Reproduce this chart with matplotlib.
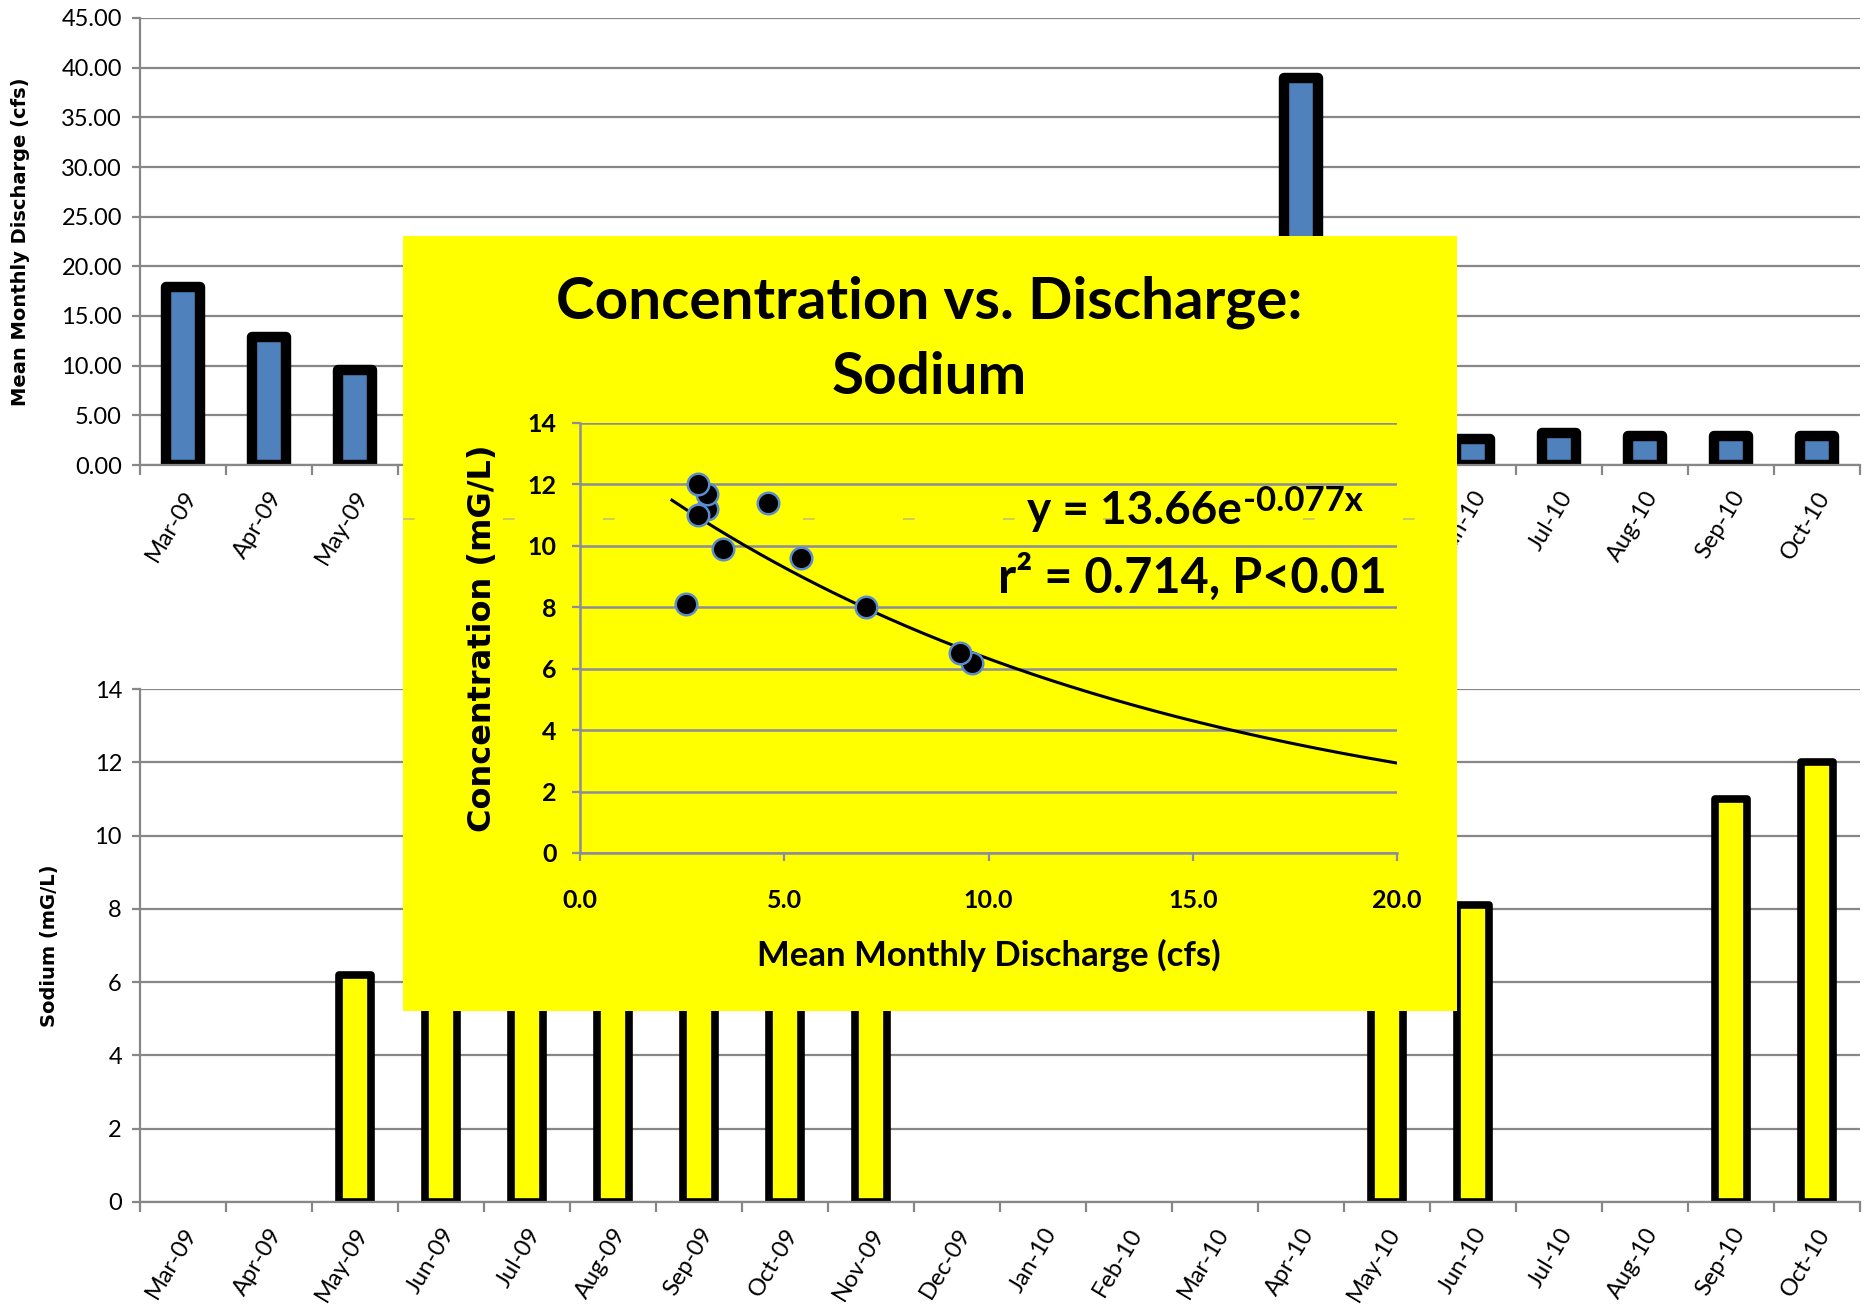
import numpy as np
import matplotlib
matplotlib.use('Agg')
import matplotlib.pyplot as plt
from matplotlib.ticker import MultipleLocator, FormatStrFormatter
from matplotlib.transforms import ScaledTranslation

plt.rcParams['font.family'] = ['Lato', 'DejaVu Sans']

# monthly record, Mar-09 .. Oct-10
months = ['Mar-09', 'Apr-09', 'May-09', 'Jun-09', 'Jul-09', 'Aug-09', 'Sep-09',
          'Oct-09', 'Nov-09', 'Dec-09', 'Jan-10', 'Feb-10', 'Mar-10', 'Apr-10',
          'May-10', 'Jun-10', 'Jul-10', 'Aug-10', 'Sep-10', 'Oct-10']
discharge = [17.9, 12.9, 9.6, 9.3, 7.0, 5.4, 3.5, 3.1, 3.1, 3.6,
             4.2, 5.5, 12.0, 39.0, 4.6, 2.6, 3.2, 2.9, 2.9, 2.9]
nan = np.nan
sodium = [nan, nan, 6.2, 6.5, 8.0, 9.6, 9.9, 11.2, 11.7, nan,
          nan, nan, nan, nan, 11.4, 8.1, nan, nan, 11.0, 12.0]

# exponential trend reported for sodium vs discharge
fit_a = 13.66
fit_b = -0.077
fit_r2 = 0.714
fit_xmin = 2.25

blue = '#4F81BD'
yellow = '#FFFF00'
gray = '#878787'
inset_gray = '#8C8C9C'

W, H = 1870, 1312


def pix_box(x0, y0, x1, y1):
    # pixel rectangle (top-left origin) -> figure fraction
    return [x0 / W, 1 - y1 / H, (x1 - x0) / W, (y1 - y0) / H]


fig = plt.figure(figsize=(W / 100, H / 100), dpi=100)
x = np.arange(len(months))


def style_month_axes(ax, ymax, step, fmt):
    ax.set_xlim(-0.5, len(months) - 0.5)
    ax.set_ylim(0, ymax)
    ax.yaxis.set_major_locator(MultipleLocator(step))
    ax.yaxis.set_major_formatter(FormatStrFormatter(fmt))
    ax.yaxis.grid(True, color=gray, lw=1.6)
    ax.set_axisbelow(True)
    for s in ['top', 'right']:
        ax.spines[s].set_visible(False)
    for s in ['left', 'bottom']:
        ax.spines[s].set_color(gray)
        ax.spines[s].set_linewidth(1.6)
    ax.set_xticks(x)
    ax.set_xticklabels(months, rotation=59, ha='right', va='center',
                       rotation_mode='anchor')
    ax.set_xticks(np.arange(-0.5, len(months)), minor=True)
    ax.tick_params(axis='x', which='major', length=0, pad=20, labelsize=17)
    ax.tick_params(axis='x', which='minor', length=7, color=gray, width=1.6)
    ax.tick_params(axis='y', length=6, color=gray, width=1.6, labelsize=17, pad=7)
    shift = ScaledTranslation(6 / 72, 0, fig.dpi_scale_trans)
    for lbl in ax.get_xticklabels():
        lbl.set_transform(lbl.get_transform() + shift)


# discharge bars
ax1 = fig.add_axes(pix_box(140, 18, 1860, 465))
ax1.bar(x, discharge, width=0.4, color=blue, edgecolor='black', linewidth=7.5,
        joinstyle='round', zorder=2)
style_month_axes(ax1, 45, 5, '%.2f')
ax1.set_ylabel('Mean Monthly Discharge (cfs)', family='DejaVu Sans',
               fontweight='bold', fontsize=14)
ax1.yaxis.set_label_coords(-0.064, 0.5)

# sodium bars
ax2 = fig.add_axes(pix_box(140, 689, 1860, 1202))
ax2.bar(x, sodium, width=0.38, color=yellow, edgecolor='black', linewidth=5.5,
        joinstyle='round', zorder=2)
style_month_axes(ax2, 14, 2, '%d')
ax2.set_ylabel('Sodium (mG/L)', family='DejaVu Sans', fontweight='bold',
               fontsize=14)
ax2.yaxis.set_label_coords(-0.047, 0.5)

# yellow panel with concentration vs discharge
box = fig.add_axes(pix_box(403, 236, 1457, 1011))
box.set_facecolor(yellow)
box.set_xlim(0, 1)
box.set_ylim(0, 1)
box.set_xticks([])
box.set_yticks([])
for s in box.spines.values():
    s.set_visible(False)
box.axhline(0.635, color='#c4c46a', lw=1.2, ls=(0, (7, 53)))
box.text(0.499, 0.866, 'Concentration vs. Discharge:\nSodium', ha='center',
         va='center', fontsize=42, fontweight='bold', linespacing=1.5)

ax3 = fig.add_axes(pix_box(580, 423, 1397, 853))
ax3.patch.set_alpha(0)
ax3.set_xlim(0, 20)
ax3.set_ylim(0, 14)
ax3.xaxis.set_major_locator(MultipleLocator(5))
ax3.xaxis.set_major_formatter(FormatStrFormatter('%.1f'))
ax3.yaxis.set_major_locator(MultipleLocator(2))
ax3.yaxis.grid(True, color=inset_gray, lw=1.8)
ax3.set_axisbelow(True)
for s in ['top', 'right']:
    ax3.spines[s].set_visible(False)
for s in ['left', 'bottom']:
    ax3.spines[s].set_color(inset_gray)
    ax3.spines[s].set_linewidth(1.8)
ax3.tick_params(axis='x', length=6, color=inset_gray, width=1.6, pad=20,
                labelsize=18)
ax3.tick_params(axis='y', length=6, color=inset_gray, width=1.6, pad=11,
                labelsize=18)
for lbl in ax3.get_xticklabels() + ax3.get_yticklabels():
    lbl.set_fontweight('bold')

xfit = np.linspace(fit_xmin, 20, 200)
ax3.plot(xfit, fit_a * np.exp(fit_b * xfit), color='black', lw=2.2, zorder=2)

sc_x = [d for d, s in zip(discharge, sodium) if not np.isnan(s)]
sc_y = [s for s in sodium if not np.isnan(s)]
ax3.scatter(sc_x, sc_y, s=240, c='black', edgecolors='#5B8CCC', linewidths=1.8,
            zorder=3)

# equation: base text plus a raised exponent attached to its right edge
eq = ax3.text(16.2, 11.15, 'y = %.2fe' % fit_a, ha='right', va='center',
              fontsize=33, fontweight='bold')
ax3.annotate('%.3fx' % fit_b, xy=(1, 1), xycoords=eq, xytext=(1, 3),
             textcoords='offset points', ha='left', va='top', fontsize=25,
             fontweight='bold')
ax3.text(19.75, 9.0, 'r² = %.3f, P<0.01' % fit_r2, ha='right', va='center',
         fontsize=35, fontweight='bold')

ax3.set_xlabel('Mean Monthly Discharge (cfs)', fontsize=25, fontweight='bold')
ax3.xaxis.set_label_coords(0.5, -0.2)
ax3.set_ylabel('Concentration (mG/L)', family='DejaVu Sans', fontsize=23,
               fontweight='bold')
ax3.yaxis.set_label_coords(-0.1, 0.5)

fig.savefig('out.png', dpi=100)
